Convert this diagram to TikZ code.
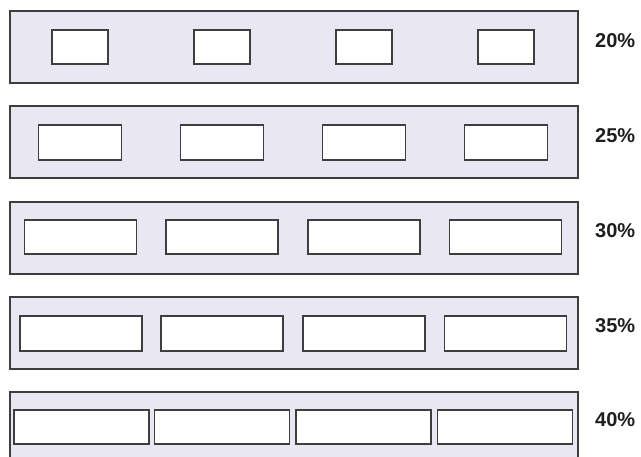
\documentclass[tikz,border=0pt]{standalone}
\usepackage{fontspec}
\setmainfont{Liberation Sans}
\usetikzlibrary{positioning}
\definecolor{BarFill}{RGB}{233, 231, 242}
\definecolor{BarLine}{RGB}{62, 62, 62}
\definecolor{LabelDark}{RGB}{30, 30, 30}
\tikzset{
  bar/.style={draw=BarLine, fill=BarFill, line width=1.6pt, minimum width=568pt, minimum height=72pt, inner sep=0pt, anchor=north west},
  cell/.style={draw=BarLine, fill=white, line width=1.6pt, minimum height=34.5pt, inner sep=0pt},
  pct/.style={font=\fontsize{20}{24}\selectfont\bfseries, text=LabelDark, anchor=base west, inner sep=0pt}
}
\begin{document}
\begin{tikzpicture}[x=1pt,y=-1pt]
  \path[use as bounding box] (0,0) rectangle (641,457);
  \clip (0,0) rectangle (641,457);

  % Row 20%
  \node[bar] (row1) at (9,10) {};
  \node[cell, minimum width=56pt] (row1a) at (80,47) {};
  \node[cell, minimum width=56pt] (row1b) at (222,47) {};
  \node[cell, minimum width=56pt] (row1c) at (364,47) {};
  \node[cell, minimum width=56pt] (row1d) at (506,47) {};
  \node[pct] (pct1) at (595,48) {20\%};

  % Row 25%
  \node[bar] (row2) at (9,105.5) {};
  \node[cell, minimum width=83pt] (row2a) at (80,142.5) {};
  \node[cell, minimum width=83pt] (row2b) at (222,142.5) {};
  \node[cell, minimum width=83pt] (row2c) at (364,142.5) {};
  \node[cell, minimum width=83pt] (row2d) at (506,142.5) {};
  \node[pct] (pct2) at (595,143) {25\%};

  % Row 30%
  \node[bar] (row3) at (9,201) {};
  \node[cell, minimum width=112pt] (row3a) at (80.5,237) {};
  \node[cell, minimum width=112pt] (row3b) at (222,237) {};
  \node[cell, minimum width=112pt] (row3c) at (364,237) {};
  \node[cell, minimum width=112pt] (row3d) at (505.5,237) {};
  \node[pct] (pct3) at (595,238) {30\%};

  % Row 35%
  \node[bar] (row4) at (9,296.5) {};
  \node[cell, minimum width=122pt] (row4a) at (81,333.5) {};
  \node[cell, minimum width=122pt] (row4b) at (222,333.5) {};
  \node[cell, minimum width=122pt] (row4c) at (364,333.5) {};
  \node[cell, minimum width=122pt] (row4d) at (505.5,333.5) {};
  \node[pct] (pct4) at (595,333) {35\%};

  % Row 40%
  \node[bar] (row5) at (9,391) {};
  \node[cell, minimum width=135pt] (row5a) at (81.5,427) {};
  \node[cell, minimum width=135pt] (row5b) at (222,427) {};
  \node[cell, minimum width=135pt] (row5c) at (363.5,427) {};
  \node[cell, minimum width=135pt] (row5d) at (505,427) {};
  \node[pct] (pct5) at (595,427) {40\%};
\end{tikzpicture}
\end{document}
